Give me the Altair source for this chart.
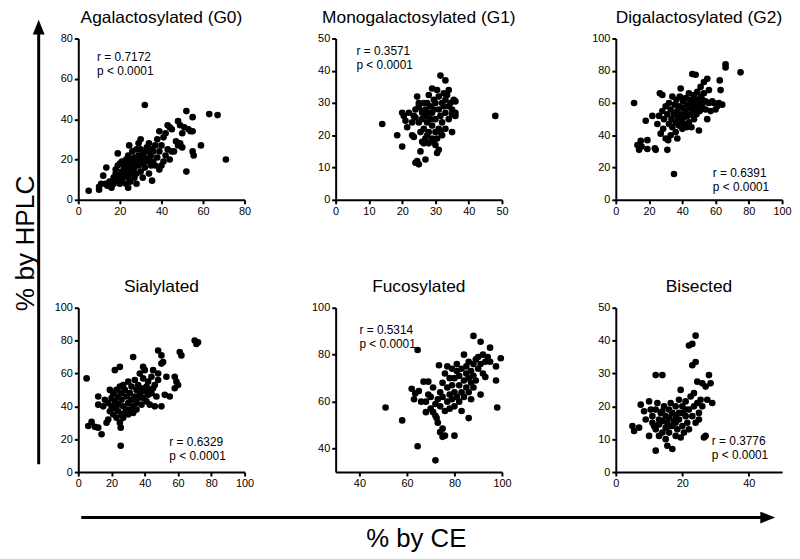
import altair as alt
import pandas as pd

FONT = "Liberation Sans"

TITLES = ["Agalactosylated (G0)", "Monogalactosylated (G1)", "Digalactosylated (G2)",
          "Sialylated", "Fucosylated", "Bisected"]
R_TEXT = ["r = 0.7172", "r = 0.3571", "r = 0.6391", "r = 0.6329", "r = 0.5314", "r = 0.3776"]
P_TEXT = "p < 0.0001"
X_DOMAINS = [[0, 80], [0, 50], [0, 100], [0, 100], [30, 100], [0, 50]]
Y_DOMAINS = [[0, 80], [0, 50], [0, 100], [0, 100], [30, 100], [0, 50]]
X_TICKS = [[0, 20, 40, 60, 80], [0, 10, 20, 30, 40, 50], [0, 20, 40, 60, 80, 100],
           [0, 20, 40, 60, 80, 100], [40, 60, 80, 100], [0, 20, 40]]
Y_TICKS = [[0, 20, 40, 60, 80], [0, 10, 20, 30, 40, 50], [0, 20, 40, 60, 80, 100],
           [0, 20, 40, 60, 80, 100], [40, 60, 80, 100], [0, 10, 20, 30, 40, 50]]
X_TITLE = "% by CE"
Y_TITLE = "% by HPLC"

# (% by CE, % by HPLC) pairs per panel
G0 = [(5,4.5),(10,5),(10,6.5),(11,8),(12,12),(13,8),(13.5,16),(14,7),(15,9),(16,6),(17,8),(17,11),
      (18,13),(18,15),(19,23),(19,10),(19,17),(20,12),(20,8),(20,18),(21,14),(21,19),(21,10),(22,15),
      (22,12),(22,17),(23,8),(23,13),(23,18),(23,20),(24,11),(24,15),(24,22),(24,6),(24.5,27),(25,17),
      (25,13),(25,9),(25,20),(26,14),(26,24),(26,18),(27,11),(27,16),(27,21),(28,13),(28,25),(28,19),
      (28,8),(29,17),(29,22),(29,28),(30,30),(30,14),(30,20),(30,25),(31,18),(31,23),(31,11),(32,47),
      (32,21),(32,16),(33,26),(33,19),(33,24),(34,13),(34,20),(34,28),(35,22),(35,25),(35,17),(35.5,9.5),
      (36,24),(36,19),(37,17),(37,27),(38,30),(38,21),(39,34),(39,15),(39,24),(40,17),(40,27),(41,19),
      (41,31),(42,22),(42,33),(43,37),(43,25),(44,20),(44,36),(45,35),(45,24),(46,24),(47,29),(48,39),
      (48,27),(49,37),(49,28),(50,26),(50,33),(51,36),(52,44),(52,14),(53,35),(54,34),(55,41),(55,34),
      (55,24),(55.5,22),(59,27),(63,42.5),(67,42),(71,20)]

G1 = [(14,23.5),(18.5,20),(20,16.5),(20,27),(20.5,26),(21,24.5),(21.5,22.5),(22,27),(23,20),(23.5,19.5),
      (23.5,26),(24,28),(24,11.5),(24.5,32),(24.5,12),(25,11),(25,24),(25,29),(25.5,15),(25.5,21),(26,27),
      (26,18),(26,25),(26.5,30),(26.5,22),(27,28),(27,12.5),(27,19),(27,26),(27.5,24),(27.5,30),(28,32.5),
      (28,27),(28,21),(28,17.5),(28.5,25),(28.5,29),(29,34.5),(29,19),(29,23),(29,27),(29.5,31),(29.5,18),
      (30,30),(30,25),(30,17),(30,21),(30.5,34),(30.5,14.5),(31,15.5),(31,28),(31,32),(31,22),(31.5,38.5),
      (31.5,26),(32,30),(32,24),(32,20),(32.5,29),(32.5,33),(33,37),(33,27),(33,31),(33.5,32.5),(34,29),
      (34,25),(34,34),(34.5,30),(35,21),(35,26.5),(35,28),(35.5,31),(36,30.5),(36,27),(36,26),(29.5,28),
      (27.5,20),(26.5,17.5),(30.5,19),(31.5,21),(33,22),(24,25.5),(23,24),(25,30),(26,27.5),(48,26)]

G2 = [(11,60),(13,34),(14,31),(15,36.5),(15.5,33),(18,49),(19,37),(19,31.5),(22,52),(23.5,32),(24,31),
      (25,47),(26,52),(26.5,66),(27,41),(28,65),(28,55),(28.5,44),(29,50),(30,58),(30,38),(31,31),(31,53),
      (31.5,37),(32,47),(32,60),(33,40),(33,56),(33.5,50),(34,64),(34,45),(35,16),(35,53),(35.5,59),(36,48),
      (36,42),(36.5,62),(37,38),(37,55),(37.5,51),(38,46),(38,58),(38.5,64),(39,69),(39,53),(39.5,49),
      (40,44),(40,57),(40.5,61),(41,51),(41,47),(42,55),(42,63),(42.5,45),(43,59),(43,52),(44,66),(44,48),
      (44.5,57),(45,53),(45,62),(45.5,45),(46,60),(46,78),(46.5,55),(47,65),(47,50),(47.5,58),(48,77.5),
      (48,62),(48.5,53),(49,67),(49,57),(50,60),(50,43),(50.5,55),(51,64),(51,70),(52,58),(52,62),(53,66),
      (53,73),(54,56),(54,61),(55,75),(55,50),(56,68),(56,60),(57,55),(58,61),(59,60),(60,56),(61,58),
      (62,60),(62.5,74),(63,68),(64,59),(66,84),(66,82),(75,79)]

SIA = [(5,57),(6,28),(8,30.5),(10,27.5),(12,27),(12,46),(12,41),(14,23),(15,40),(16,44),(17,30),(18,32),
       (18,42),(19,50),(19,37),(20,45),(20,40),(21,48),(21,35),(22,62),(22,43),(22,39),(23,50),(23,33),
       (24,46),(24,41),(24,37),(25,64),(25,52),(25,30),(25.5,16),(25.5,27),(26,44),(26,35),(26,48),(27,40),
       (27,53),(27,33),(28,50),(28,36),(29,38),(29,46),(30,42),(30,55),(30,35),(31,48),(31,38),(32,44),
       (32,52),(33,70),(33,40),(33,36),(34,46),(34,56),(35,42),(35,50),(35,38),(36,53),(36,45),(37,48),
       (37,60),(38,41),(38,51),(39,64),(39,45),(39,57),(40,49),(40,62),(41,43),(41,52),(42,47),(42,55),
       (43,50),(43,41),(44,58),(44,48),(45,51),(45,62),(46,53),(46,40),(47,46),(48,74),(48,56),(48,60),
       (50,71),(50,66),(50,40),(51,67),(52,47),(53,58),(55,46),(58,58),(58,51),(59,55),(60,53),(61,73),
       (62,71),(70,80),(72,79),(71,78)]

FUC = [(51,57.5),(58,52),(62,65.5),(63,61),(63.5,63.5),(64.5,82),(64.5,41),(65,64.5),(66,60),(67,68.5),
       (68,55.5),(68,60),(69,68.5),(69,63),(70,57),(70,62),(71,55.5),(71,66),(72,54),(72,59),(72,35),
       (72.5,53),(73,51),(73,61),(73.5,75.5),(74,47),(74,64),(74,58),(75,48.5),(75,45),(75,68),(75,62),
       (76,45.5),(76,56),(76,72),(77,60),(77,66),(77,75),(78,63),(78,70),(78,57),(79,67),(79,61),(79,74),
       (80,45.5),(80,64),(80,70),(80,58),(81,73),(81,62),(81,76),(82,67),(82,60),(82,71),(83,74),(83,64),
       (83,56),(84,80),(84,69),(84,62),(85,72),(85,66),(85,75),(86,53),(86,70),(86,77),(86,64),(87,68),
       (87,73),(87,61),(88,88),(88,76),(88,66),(88,71),(89,78),(89,69),(90,74),(90,79),(91,85.5),(91,63),
       (91,76),(92,80),(92,72),(93,70.5),(93,77),(94,79),(95,83),(95,77),(97.5,75),(97.5,69),(98,57.5),
       (99.5,78.5)]

BIS = [(5,14),(5.5,12.5),(7,13.5),(7.5,20.5),(8.5,18.5),(9,16),(10,21.5),(10,11),(10.5,19),(11,15),
       (11,17),(12,29.5),(12,6.5),(12,13),(12,19),(12.5,21),(13,16),(13,11),(13,14.5),(13.5,18),(14,29.5),
       (14,12),(14,15.5),(14.5,20),(15,17),(15,10),(15,13.5),(15.5,8),(15.5,15),(16,19),(16,12),(16,16.5),
       (16.5,21),(17,7),(17,14),(17,18),(17.5,15.5),(18,11),(18,17),(18,20),(18.5,13),(19,16),(19,22),
       (19.5,25),(19.5,10.5),(20,18),(20,14),(20,20),(20.5,12),(21,17),(21,21.5),(21.5,15),(22,38.5),
       (22,19),(22,13),(22.5,23),(23,39),(23,32.5),(23,17),(23.5,24),(23.5,20),(24,41.5),(24,33.5),(24,15),
       (24.5,27.5),(24.5,21),(25,16),(25,18),(25.5,22),(26,27),(26,20),(26.5,10.5),(27,11),(27,26),
       (27.5,22),(28,29.5),(28.5,27),(29,21),(14,18.5),(16,14),(19,18),(11.5,14),(21,19),(18,15)]

PANEL_DATA = [G0, G1, G2, SIA, FUC, BIS]
# annotation placement (pixels from plot's top-left)
ANN_POS = [(19, 14), (21, 8), (98, 131), (92, 131), (24, 18), (97, 130)]

PW = 168
COL_W = [45, 23, PW, 92, PW, 115, PW]
ROW_H = [163, 109, 166, 22, 50]

one = pd.DataFrame({"a": [0]})


def panel(i, h):
    df = pd.DataFrame(PANEL_DATA[i], columns=["ce", "hplc"])
    pts = alt.Chart(df).mark_circle(size=45, color="black", opacity=1).encode(
        x=alt.X("ce:Q", scale=alt.Scale(domain=X_DOMAINS[i], nice=False, zero=False),
                axis=alt.Axis(values=X_TICKS[i], title=None, labelFlush=False,
                              labelOverlap=False, format="d")),
        y=alt.Y("hplc:Q", scale=alt.Scale(domain=Y_DOMAINS[i], nice=False, zero=False),
                axis=alt.Axis(values=Y_TICKS[i], title=None, labelOverlap=False, format="d")),
    )
    ann = alt.Chart(pd.DataFrame({"t": [R_TEXT[i] + "\n" + P_TEXT]})).mark_text(
        align="left", baseline="top", lineBreak="\n", fontSize=12, font=FONT,
        color="black", lineHeight=14
    ).encode(text="t:N", x=alt.value(ANN_POS[i][0]), y=alt.value(ANN_POS[i][1]))
    return alt.layer(pts, ann).properties(
        width=PW, height=h,
        title=alt.TitleParams(TITLES[i], fontSize=17.5, font=FONT, fontWeight="normal",
                              color="black", offset=6, anchor="middle"))


def spacer(w, h):
    return alt.Chart(one).mark_point(opacity=0).encode(
        x=alt.value(0), y=alt.value(0)).properties(width=w, height=h)


HEAD_UP = "M0,-1L0.8,1L-0.8,1Z"
HEAD_RIGHT = "M-1,-0.8L1,0L-1,0.8Z"

left = alt.layer(
    alt.Chart(one).mark_rule(color="black", strokeWidth=3).encode(
        x=alt.value(28), y=alt.value(430), y2=alt.value(-7)),
    alt.Chart(one).mark_point(shape=HEAD_UP, filled=True, size=225, color="black",
                              opacity=1, strokeWidth=0).encode(
        x=alt.value(28), y=alt.value(-11.5)),
    alt.Chart(one).mark_text(text=Y_TITLE, angle=270, fontSize=26.5, font=FONT,
                             color="black", align="center", baseline="middle").encode(
        x=alt.value(15), y=alt.value(207)),
).properties(width=COL_W[0], height=ROW_H[0])

bottom = alt.layer(
    alt.Chart(one).mark_rule(color="black", strokeWidth=3).encode(
        x=alt.value(3), x2=alt.value(692), y=alt.value(24)),
    alt.Chart(one).mark_point(shape=HEAD_RIGHT, filled=True, size=225, color="black",
                              opacity=1, strokeWidth=0).encode(
        x=alt.value(696.5), y=alt.value(24)),
    alt.Chart(one).mark_text(text=X_TITLE, fontSize=26, font=FONT, color="black",
                             align="center", baseline="alphabetic").encode(
        x=alt.value(341.5), y=alt.value(54)),
).properties(width=PW, height=ROW_H[4])

special = {(0, 0): left, (0, 2): panel(0, ROW_H[0]), (0, 4): panel(1, ROW_H[0]),
           (0, 6): panel(2, ROW_H[0]), (2, 2): panel(3, ROW_H[2]),
           (2, 4): panel(4, ROW_H[2]), (2, 6): panel(5, ROW_H[2]), (4, 2): bottom}

cells = []
for r, h in enumerate(ROW_H):
    for c, w in enumerate(COL_W):
        cells.append(special.get((r, c), spacer(w, h)))

chart = alt.concat(*cells, columns=len(COL_W), spacing=0, bounds="flush").properties(
    padding={"left": 0, "top": -2, "right": 0, "bottom": 0}
).configure_view(strokeWidth=0).configure_axis(
    domainColor="black", domainWidth=2, tickColor="black", tickWidth=2, tickSize=4,
    labelColor="black", labelFont=FONT, labelFontSize=11, labelPadding=2, grid=False
)

chart.save("out.html", embed_options={"renderer": "svg", "actions": False})
